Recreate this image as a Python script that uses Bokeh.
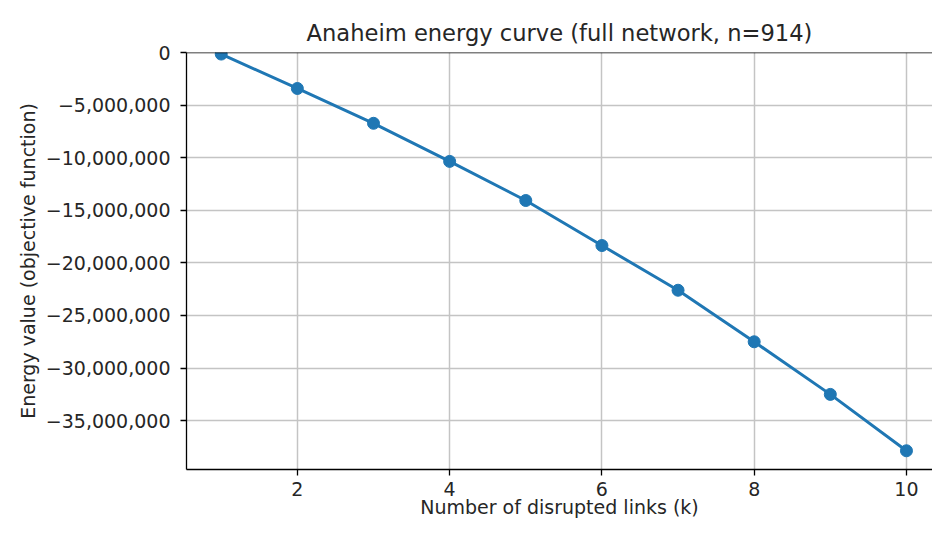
from bokeh.plotting import figure
from bokeh.models import Range1d, FixedTicker, CustomJSTickFormatter, Span
from bokeh.embed import file_html
from bokeh.resources import INLINE

# Data
k_values = [1, 2, 3, 4, 5, 6, 7, 8, 9, 10]
energy_values = [-150000, -3420000, -6730000, -10350000, -14070000,
                 -18350000, -22600000, -27500000, -32500000, -37860000]
x_ticks = [2, 4, 6, 8, 10]
y_ticks = [0, -5000000, -10000000, -15000000, -20000000,
           -25000000, -30000000, -35000000]

title_text = "Anaheim energy curve (full network, n=914)"
x_label = "Number of disrupted links (k)"
y_label = "Energy value (objective function)"

FONT = "DejaVu Sans"
TEXT_COLOR = "#262626"
BLUE = "#1f77b4"

p = figure(width=932, height=520, output_backend="svg", toolbar_location=None,
           x_range=Range1d(0.544, 10.342), y_range=Range1d(-39.64e6, 0),
           min_border_left=186, min_border_right=0, min_border_top=52,
           min_border_bottom=51, title=title_text)

p.background_fill_color = "white"
p.border_fill_color = "white"
p.outline_line_color = None

p.title.align = "center"
p.title.text_font = FONT
p.title.text_font_size = "22.6px"
p.title.text_font_style = "normal"
p.title.text_color = TEXT_COLOR
p.title.standoff = 13

for ax in (p.xaxis[0], p.yaxis[0]):
    ax.axis_line_color = "black"
    ax.axis_line_width = 1.3
    ax.major_tick_line_color = "black"
    ax.major_tick_line_width = 1.3
    ax.major_tick_out = 6
    ax.major_tick_in = 0
    ax.minor_tick_line_color = None
    ax.major_label_text_font = FONT
    ax.major_label_text_font_size = "19px"
    ax.major_label_text_color = TEXT_COLOR
    ax.axis_label_text_font = FONT
    ax.axis_label_text_font_size = "19px"
    ax.axis_label_text_font_style = "normal"
    ax.axis_label_text_color = TEXT_COLOR

p.xaxis[0].ticker = FixedTicker(ticks=x_ticks)
p.yaxis[0].ticker = FixedTicker(ticks=y_ticks)
p.yaxis[0].formatter = CustomJSTickFormatter(
    code="return Math.round(tick).toLocaleString('en-US').replace('-', '\\u2212');")
p.xaxis[0].axis_label = x_label
p.yaxis[0].axis_label = y_label
p.xaxis[0].major_label_standoff = 6
p.xaxis[0].axis_label_standoff = -3
p.yaxis[0].major_label_standoff = 10
p.yaxis[0].axis_label_standoff = 4

p.grid.grid_line_color = "#c4c4c4"
p.grid.grid_line_width = 1.5

top_spine = Span(location=0, dimension="width", line_color="black", line_width=1.3)
p.add_layout(top_spine)

p.line(k_values, energy_values, line_width=3, line_color=BLUE)
p.scatter(k_values, energy_values, size=12, fill_color=BLUE, line_color=BLUE)

open("out.html", "w").write(file_html(p, INLINE))
